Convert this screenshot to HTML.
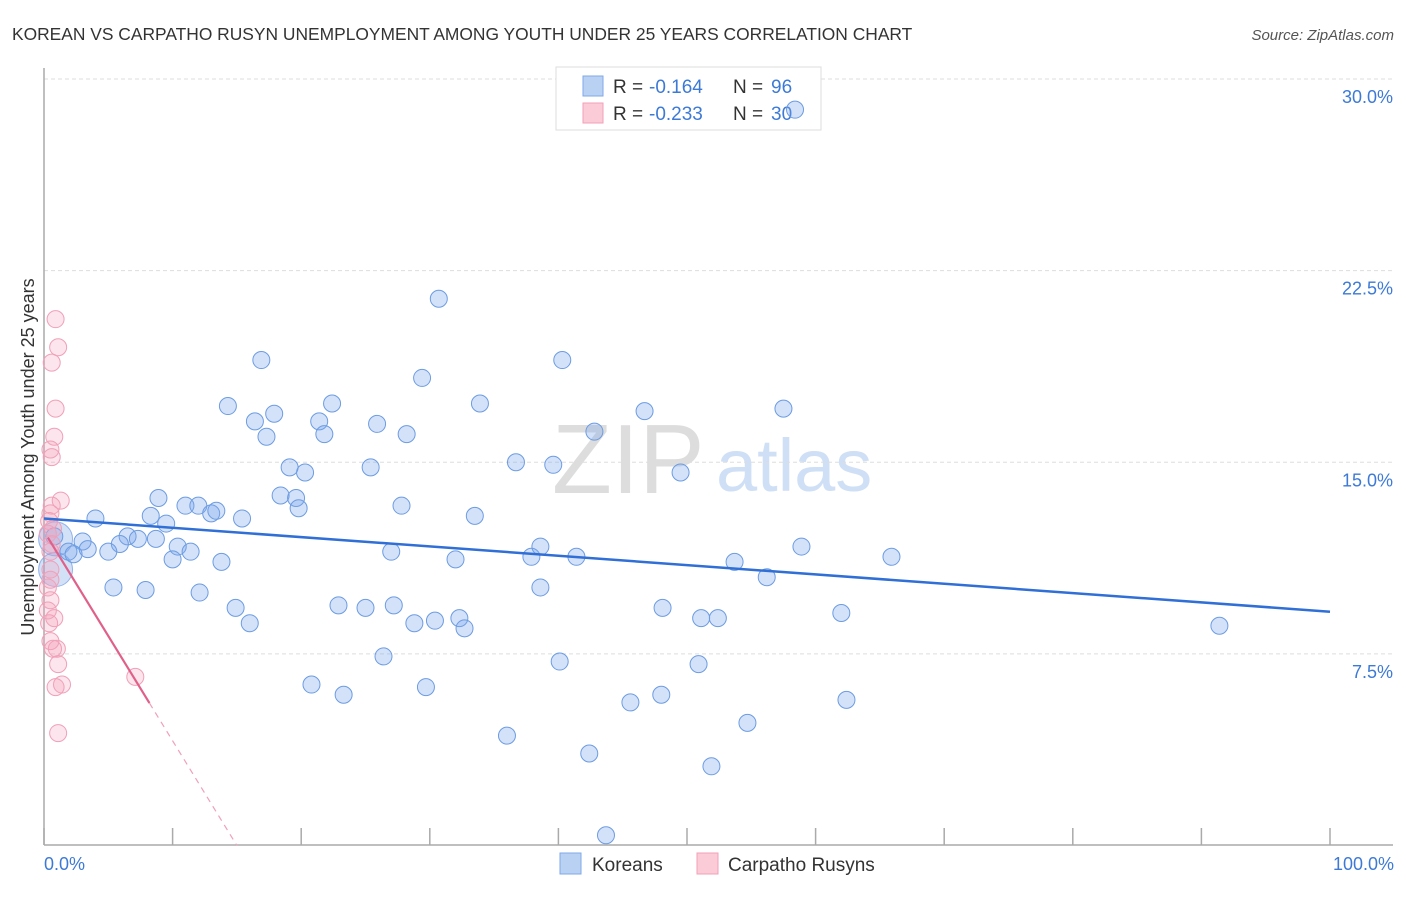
<!DOCTYPE html>
<html><head><meta charset="utf-8">
<style>
html,body{margin:0;padding:0;background:#fff;}
body{width:1406px;height:892px;overflow:hidden;font-family:"Liberation Sans",sans-serif;}
svg text{font-family:"Liberation Sans",sans-serif;}
</style></head>
<body>
<svg id="chart" width="1406" height="892">
<text x="12" y="40" font-size="17.4" fill="#333">KOREAN VS CARPATHO RUSYN UNEMPLOYMENT AMONG YOUTH UNDER 25 YEARS CORRELATION CHART</text>
<text x="1394" y="40" font-size="15" fill="#555" font-style="italic" text-anchor="end">Source: ZipAtlas.com</text>
<g>
<text x="552" y="493" font-size="98" fill="#ddd" font-family="Liberation Serif">ZIP</text>
<text x="716" y="491" font-size="74" fill="#cfdff5">atlas</text>
</g>
<g id="grid"></g>
<g id="axes"></g>
<g>
<rect x="556" y="67" width="265" height="63" fill="#fff" stroke="#ddd"/>
<rect x="583" y="76" width="20" height="20" fill="#b9d2f4" stroke="#7fa8e6"/>
<rect x="583" y="103" width="20" height="20" fill="#fbcbd8" stroke="#f0a0b8"/>
<text x="613" y="93" font-size="19" fill="#333">R =</text>
<text x="649" y="93" font-size="19" fill="#3d7ad6">-0.164</text>
<text x="733" y="93" font-size="19" fill="#333">N =</text>
<text x="771" y="93" font-size="19" fill="#3d7ad6">96</text>
<text x="613" y="120" font-size="19" fill="#333">R =</text>
<text x="649" y="120" font-size="19" fill="#3d7ad6">-0.233</text>
<text x="733" y="120" font-size="19" fill="#333">N =</text>
<text x="771" y="120" font-size="19" fill="#3d7ad6">30</text>
</g>
<g id="marks"></g>
<g id="trends"></g>
<text transform="translate(34,457) rotate(-90)" font-size="18" fill="#333" text-anchor="middle">Unemployment Among Youth under 25 years</text>
<text x="44" y="870" font-size="18" fill="#3d7ad6">0.0%</text>
<text x="1394" y="870" font-size="18" fill="#3d7ad6" text-anchor="end">100.0%</text>
<g>
<rect x="560" y="853" width="21" height="21" fill="#b9d2f4" stroke="#7fa8e6"/>
<text x="592" y="871" font-size="19" fill="#333">Koreans</text>
<rect x="697" y="853" width="21" height="21" fill="#fbcbd8" stroke="#f0a0b8"/>
<text x="728" y="871" font-size="19" fill="#333">Carpatho Rusyns</text>
</g>
</svg>
<script>
const yTicks=[7.5,15,22.5,30];
const yTickLabels=["7.5%","15.0%","22.5%","30.0%"];
const xTicks=[0,10,20,30,40,50,60,70,80,90,100];
const koreanX=[58.4,30.7,16.9,40.3,29.4,14.3,33.9,46.7,57.5,16.4,17.9,21.4,22.4,25.9,17.3,21.8,28.2,42.8,19.1,20.3,25.4,36.7,39.6,49.5,8.9,18.4,19.6,19.8,11.0,12.0,13.0,13.4,15.4,27.8,33.5,4.0,8.3,9.5,0.8,3.0,6.5,7.3,8.7,5.9,10.4,5.0,1.9,2.3,3.4,11.4,10.0,13.8,27.0,32.0,37.9,38.6,41.4,53.7,58.9,65.9,56.2,5.4,7.9,12.1,14.9,16.0,22.9,25.0,27.2,28.8,30.4,32.3,32.7,38.6,48.1,51.1,52.4,62.0,91.4,26.4,40.1,50.9,20.8,23.3,29.7,45.6,48.0,62.4,54.7,36.0,42.4,51.9,43.7];
const koreanY=[28.8,21.4,19.0,19.0,18.3,17.2,17.3,17.0,17.1,16.6,16.9,16.6,17.3,16.5,16.0,16.1,16.1,16.2,14.8,14.6,14.8,15.0,14.9,14.6,13.6,13.7,13.6,13.2,13.3,13.3,13.0,13.1,12.8,13.3,12.9,12.8,12.9,12.6,12.1,11.9,12.1,12.0,12.0,11.8,11.7,11.5,11.5,11.4,11.6,11.5,11.2,11.1,11.5,11.2,11.3,11.7,11.3,11.1,11.7,11.3,10.5,10.1,10.0,9.9,9.3,8.7,9.4,9.3,9.4,8.7,8.8,8.9,8.5,10.1,9.3,8.9,8.9,9.1,8.6,7.4,7.2,7.1,6.3,5.9,6.2,5.6,5.9,5.7,4.8,4.3,3.6,3.1,0.4];
const koreanBigX=[0.9,0.9];
const koreanBigY=[12.0,10.8];
const rusynX=[0.9,1.1,0.6,0.9,0.8,0.5,0.6,1.3,0.6,0.5,0.4,0.6,0.5,0.5,0.3,0.5,0.8,0.4,1.0,0.7,1.1,1.4,0.9,7.1,1.1,0.5,0.3,0.7,0.3,0.5];
const rusynY=[20.6,19.5,18.9,17.1,16.0,15.5,15.2,13.5,13.3,13.0,12.7,11.8,11.5,10.8,10.1,9.6,8.9,8.7,7.7,7.7,7.1,6.3,6.2,6.6,4.4,10.4,12.2,12.4,9.2,8.0];
const koreanTrend=[12.8,9.15];
const rusynTrend=[12.3,-0.82];

const NS="http://www.w3.org/2000/svg";
const X0=44,X1=1330,Y0=845.5,Y30=79;
const sx=v=>X0+v/100*(X1-X0);
const sy=v=>Y0-v/30*(Y0-Y30);
function mk(tag,attrs,parent){const e=document.createElementNS(NS,tag);for(const k in attrs)e.setAttribute(k,attrs[k]);parent.appendChild(e);return e;}
const grid=document.getElementById('grid'),axes=document.getElementById('axes'),marks=document.getElementById('marks'),trends=document.getElementById('trends');
yTicks.forEach((t,i)=>{
  const l=mk('line',{x1:X0,x2:1393,y1:sy(t),y2:sy(t),stroke:'#ddd','stroke-dasharray':'4,3'},grid);
  
  
  const tx=mk('text',{x:1393,y:sy(t)+24,'font-size':18,fill:'#3d7ad6','text-anchor':'end'},grid);
  tx.textContent=yTickLabels[i];
  
  
});
const ya=mk('line',{x1:X0,x2:X0,y1:68,y2:845,stroke:'#aaa','stroke-width':1.5},axes);


const xa=mk('line',{x1:X0,x2:1393,y1:845,y2:845,stroke:'#aaa','stroke-width':1.5},axes);


xTicks.forEach(t=>{
  const l=mk('line',{x1:sx(t),x2:sx(t),y1:828,y2:845,stroke:'#aaa','stroke-width':1.5},axes);
  
  
});
koreanBigX.forEach((v,i)=>{
  const c=mk('circle',{cx:sx(v),cy:sy(koreanBigY[i]),r:17,fill:'rgba(110,155,230,0.3)',stroke:'rgba(90,140,225,0.6)','stroke-width':1},marks);
  
  
});
koreanX.forEach((v,i)=>{
  const c=mk('circle',{cx:sx(v),cy:sy(koreanY[i]),r:8.5,fill:'rgba(120,165,235,0.32)',stroke:'#6c9ce2','stroke-width':1},marks);
  
  
});
rusynX.forEach((v,i)=>{
  const c=mk('circle',{cx:sx(v),cy:sy(rusynY[i]),r:8.5,fill:'rgba(245,160,185,0.28)',stroke:'#f0a0b8','stroke-width':1},marks);
  
  
});
const kt=mk('line',{x1:sx(0),y1:sy(koreanTrend[0]),x2:sx(100),y2:sy(koreanTrend[1]),stroke:'#2f6fd6','stroke-width':2.5},trends);


const rf=x=>rusynTrend[0]+rusynTrend[1]*x;
const rt=mk('line',{x1:sx(0.3),y1:sy(rf(0.3)),x2:sx(8.2),y2:sy(rf(8.2)),stroke:'#e0608a','stroke-width':2.2},trends);


const rd=mk('line',{x1:sx(8.2),y1:sy(rf(8.2)),x2:sx(15),y2:sy(Math.max(rf(15),0)),stroke:'#f0a0b8','stroke-width':1.2,'stroke-dasharray':'6,5'},trends);


</script>
</body></html>
